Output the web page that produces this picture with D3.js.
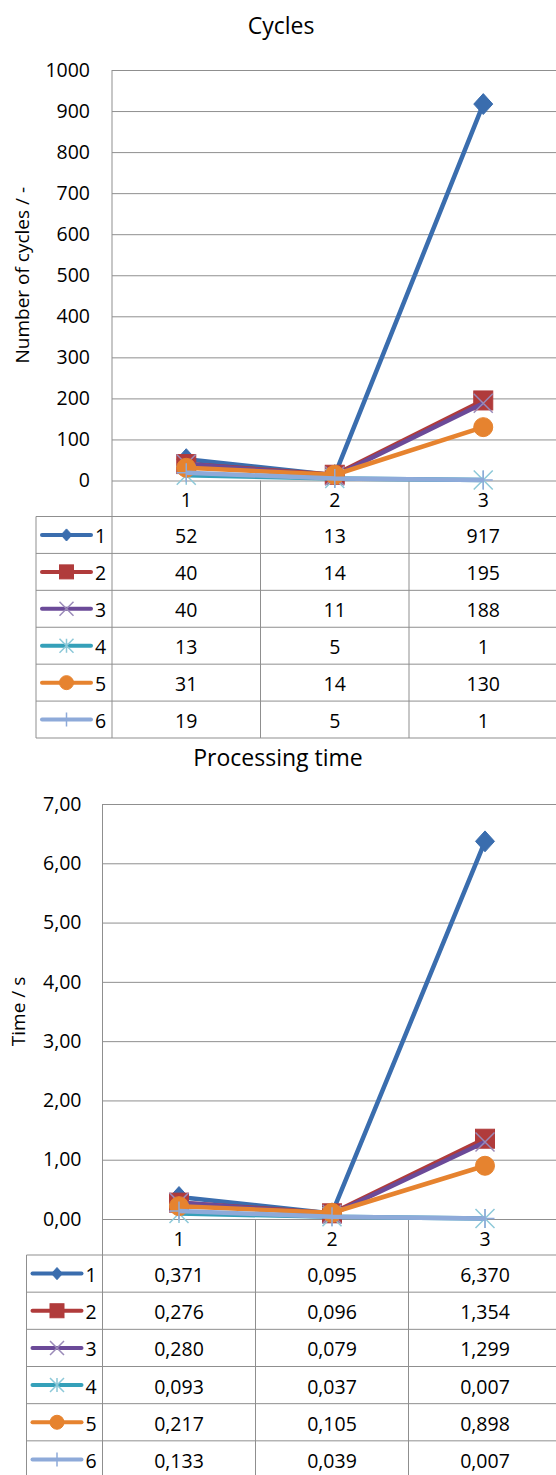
<!DOCTYPE html>
<html>
<head>
<meta charset="utf-8">
<script src="https://cdn.jsdelivr.net/npm/d3@7"></script>
<style>
  html, body { margin: 0; padding: 0; background: #fff; }
  svg { display: block; font-family: "Open Sans", "Liberation Sans", sans-serif; }
</style>
</head>
<body>
<svg id="chart" width="556" height="1475"></svg>
<script>
// Categories along the x axis and the six measured series
const categories = ["1", "2", "3"];
const seriesNames = ["1", "2", "3", "4", "5", "6"];

const cyclesValues = [
  [52, 13, 917],
  [40, 14, 195],
  [40, 11, 188],
  [13, 5, 1],
  [31, 14, 130],
  [19, 5, 1]
];

const timeValues = [
  [0.371, 0.095, 6.370],
  [0.276, 0.096, 1.354],
  [0.280, 0.079, 1.299],
  [0.093, 0.037, 0.007],
  [0.217, 0.105, 0.898],
  [0.133, 0.039, 0.007]
];

const cyclesTicks = [0, 100, 200, 300, 400, 500, 600, 700, 800, 900, 1000];
const timeTicks = [0, 1, 2, 3, 4, 5, 6, 7];

// Series styling: colour and marker shape
const seriesColors = ["#3a6dae", "#b03b3b", "#6b4a98", "#35a0b9", "#e6832f", "#8eaad9"];
const markerShapes = ["diamond", "square", "x", "asterisk", "circle", "plus"];
const markerAccent = ["#3a6dae", "#b03b3b", "#9a8ab8", "#8cc8d8", "#e6832f", "#8eaad9"];

const svg = d3.select("#chart");
const gridColor = "#8f8f8f";
const textColor = "#000";

function drawMarker(g, shape, cx, cy, s, i) {
  const col = seriesColors[i];
  const h = s / 2;
  if (shape === "diamond") {
    g.append("path")
      .attr("d", `M${cx},${cy - h * 1.1}L${cx + h},${cy}L${cx},${cy + h * 1.1}L${cx - h},${cy}Z`)
      .attr("fill", col).attr("stroke", col).attr("stroke-width", 1);
  } else if (shape === "square") {
    g.append("rect")
      .attr("x", cx - h).attr("y", cy - h).attr("width", s).attr("height", s)
      .attr("fill", col).attr("stroke", col).attr("stroke-width", 1);
  } else if (shape === "circle") {
    g.append("circle")
      .attr("cx", cx).attr("cy", cy).attr("r", h)
      .attr("fill", col).attr("stroke", col).attr("stroke-width", 1);
  } else if (shape === "x") {
    g.append("path")
      .attr("d", `M${cx - h},${cy - h}L${cx + h},${cy + h}M${cx - h},${cy + h}L${cx + h},${cy - h}`)
      .attr("stroke", markerAccent[i]).attr("stroke-width", 1.5).attr("fill", "none");
  } else if (shape === "asterisk") {
    g.append("path")
      .attr("d", `M${cx - h},${cy - h}L${cx + h},${cy + h}M${cx - h},${cy + h}L${cx + h},${cy - h}M${cx},${cy - h}L${cx},${cy + h}`)
      .attr("stroke", markerAccent[i]).attr("stroke-width", 1.5).attr("fill", "none");
  } else if (shape === "plus") {
    g.append("path")
      .attr("d", `M${cx - h},${cy}L${cx + h},${cy}M${cx},${cy - h}L${cx},${cy + h}`)
      .attr("stroke", markerAccent[i]).attr("stroke-width", 1.5).attr("fill", "none");
  }
}

function drawChart(cfg) {
  const g = svg.append("g");
  const x = d3.scaleBand().domain(categories).range([cfg.left, cfg.right]);
  const y = d3.scaleLinear().domain([0, cfg.ticks[cfg.ticks.length - 1]]).range([cfg.bottom, cfg.top]);

  // Title
  g.append("text")
    .attr("x", cfg.titleX).attr("y", cfg.titleY)
    .attr("text-anchor", "middle").attr("dominant-baseline", "central")
    .attr("font-size", 23).attr("fill", textColor)
    .text(cfg.title);

  // Horizontal gridlines
  g.append("g")
    .attr("transform", `translate(${cfg.left},0)`)
    .call(d3.axisRight(y).tickValues(cfg.ticks).tickSize(cfg.right - cfg.left).tickFormat(""))
    .call(a => a.select(".domain").remove())
    .call(a => a.selectAll("line").attr("stroke", gridColor).attr("stroke-width", 1));

  // Value axis labels
  g.append("g")
    .attr("transform", `translate(${cfg.left},0)`)
    .call(d3.axisLeft(y).tickValues(cfg.ticks).tickSize(0).tickPadding(cfg.tickPad).tickFormat(cfg.fmt))
    .call(a => a.select(".domain").remove())
    .call(a => a.selectAll("text").attr("font-size", 19.5).attr("fill", textColor)
      .attr("font-family", "'Open Sans', sans-serif"));

  // Value axis title
  g.append("text")
    .attr("transform", `translate(${cfg.axisTitleX},${(cfg.top + cfg.bottom) / 2}) rotate(-90)`)
    .attr("text-anchor", "middle").attr("dominant-baseline", "central")
    .attr("font-size", 19).attr("fill", textColor)
    .text(cfg.axisTitle);

  // Table geometry
  const rowH = (cfg.tableBottom - cfg.tableTop) / seriesNames.length;
  const rowY = i => cfg.tableTop + i * rowH;

  // Category dividers from the zero line through the data table
  const dividers = categories.slice(1).map(c => x(c));
  g.selectAll(".divider").data(dividers).enter().append("line")
    .attr("x1", d => d).attr("x2", d => d)
    .attr("y1", cfg.bottom).attr("y2", cfg.tableBottom)
    .attr("stroke", gridColor);

  // Left axis line through the table
  g.append("line")
    .attr("x1", cfg.left).attr("x2", cfg.left)
    .attr("y1", cfg.top).attr("y2", cfg.tableBottom)
    .attr("stroke", gridColor);

  // Table row borders
  d3.range(seriesNames.length + 1).forEach(i => {
    g.append("line")
      .attr("x1", cfg.tableLeft).attr("x2", cfg.right)
      .attr("y1", rowY(i)).attr("y2", rowY(i))
      .attr("stroke", gridColor);
  });
  g.append("line")
    .attr("x1", cfg.tableLeft).attr("x2", cfg.tableLeft)
    .attr("y1", cfg.tableTop).attr("y2", cfg.tableBottom)
    .attr("stroke", gridColor);

  // Category labels
  g.selectAll(".cat").data(categories).enter().append("text")
    .attr("x", d => x(d) + x.bandwidth() / 2)
    .attr("y", (cfg.bottom + cfg.tableTop) / 2 + 1)
    .attr("text-anchor", "middle").attr("dominant-baseline", "central")
    .attr("font-size", 19.5).attr("fill", textColor)
    .text(d => d);

  // Series lines and markers
  const line = d3.line()
    .x((d, j) => x(categories[j]) + x.bandwidth() / 2)
    .y(d => y(d));
  cfg.values.forEach((vals, i) => {
    const sg = g.append("g");
    sg.append("path")
      .datum(vals)
      .attr("d", line)
      .attr("fill", "none")
      .attr("stroke", seriesColors[i])
      .attr("stroke-width", 4.5)
      .attr("stroke-linejoin", "round");
    vals.forEach((v, j) => {
      drawMarker(sg, markerShapes[i], x(categories[j]) + x.bandwidth() / 2, y(v), 19, i);
    });
  });

  // Data table: legend keys and values
  seriesNames.forEach((name, i) => {
    const cy = rowY(i) + rowH / 2;
    const lx1 = cfg.tableLeft + 6, lx2 = cfg.tableLeft + 55;
    g.append("line")
      .attr("x1", lx1).attr("x2", lx2).attr("y1", cy).attr("y2", cy)
      .attr("stroke", seriesColors[i]).attr("stroke-width", 4).attr("stroke-linecap", "round");
    drawMarker(g, markerShapes[i], (lx1 + lx2) / 2, cy, markerShapes[i] === "diamond" ? 11 : 14, i);
    g.append("text")
      .attr("x", lx2 + 4).attr("y", cy + 1)
      .attr("dominant-baseline", "central")
      .attr("font-size", 19.5).attr("fill", textColor)
      .text(name);
    cfg.values[i].forEach((v, j) => {
      g.append("text")
        .attr("x", x(categories[j]) + x.bandwidth() / 2)
        .attr("y", cy + 1)
        .attr("text-anchor", "middle").attr("dominant-baseline", "central")
        .attr("font-size", 19.5).attr("fill", textColor)
        .text(cfg.cellFmt(v));
    });
  });
}

const commaFmt = f => v => d3.format(f)(v).replace(".", ",");

drawChart({
  title: "Cycles", titleX: 281, titleY: 25,
  axisTitle: "Number of cycles / -", axisTitleX: 22,
  values: cyclesValues, ticks: cyclesTicks,
  fmt: d3.format("d"), cellFmt: d3.format("d"), tickPad: 22,
  left: 112, right: 557.5, top: 70, bottom: 480.5,
  tableLeft: 36, tableTop: 516.5, tableBottom: 738
});

drawChart({
  title: "Processing time", titleX: 278, titleY: 757,
  axisTitle: "Time / s", axisTitleX: 18,
  values: timeValues, ticks: timeTicks,
  fmt: commaFmt(".2f"), cellFmt: commaFmt(".3f"), tickPad: 21,
  left: 102.5, right: 561.5, top: 804, bottom: 1219,
  tableLeft: 26.5, tableTop: 1255, tableBottom: 1478
});
</script>
</body>
</html>
